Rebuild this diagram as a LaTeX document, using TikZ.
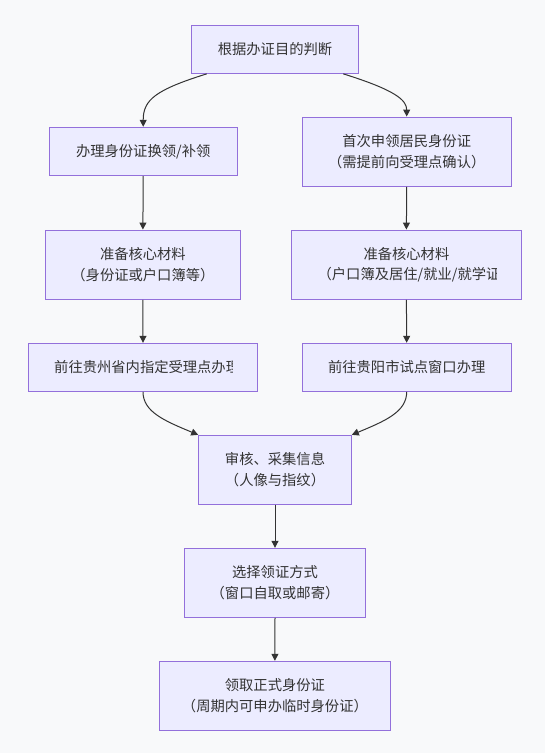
\documentclass[tikz,border=0pt]{standalone}
\usepackage{fontspec}
\newfontfamily\cjk{Noto Sans CJK SC}
\usetikzlibrary{arrows.meta}
\definecolor{bg}{HTML}{F8F9FA}
\definecolor{nodefill}{HTML}{ECECFF}
\definecolor{nodeborder}{HTML}{9370DB}
\definecolor{edgecol}{HTML}{333333}
\definecolor{txt}{HTML}{333333}
\begin{document}
\begin{tikzpicture}[x=1pt,y=-1pt,
  box/.style={draw=nodeborder, fill=nodefill, line width=1pt, inner sep=0pt, align=center, text=txt, font=\cjk\fontsize{14.3}{21.6}\selectfont},
  conn/.style={draw=edgecol, line width=1pt, -{Triangle[length=7pt,width=7pt]}},
  lbl/.style={inner sep=0pt, text=txt, font=\cjk\fontsize{14.3}{21.6}\selectfont}]
\fill[bg] (0,0) rectangle (545,753);
\useasboundingbox (0,0) rectangle (545,753);

\node[box, minimum width=166.6pt, minimum height=48.3pt] (n1) at (275,49.2) {根据办证目的判断};
\node[box, minimum width=188.4pt, minimum height=48.4pt] (n2) at (143.2,151.5) {办理身份证换领/补领};
\node[box, minimum width=208.6pt, minimum height=69.3pt] (n3) at (406.7,151.7) {首次申领居民身份证\\（需提前向受理点确认）};
\node[box, minimum width=194.7pt, minimum height=69.3pt] (n4) at (142.9,264.7) {准备核心材料\\（身份证或户口簿等）};
\node[box, minimum width=230.1pt, minimum height=69.3pt] (n5) at (406.4,264.7) {};
\node[lbl] (n5a) at (406.4,254.3) {准备核心材料};
\begin{scope}
  \clip (317.4,232) rectangle (496.7,298);
  \node[lbl, anchor=west] (n5b) at (317.4,275) {（户口簿及居住/就业/就学证明）};
\end{scope}
\node[box, minimum width=229.7pt, minimum height=48pt] (n6) at (143,367.3) {};
\begin{scope}
  \clip (54,345) rectangle (232.7,390);
  \node[lbl, anchor=west] (n6a) at (54,367.3) {前往贵州省内指定受理点办理};
\end{scope}
\node[box, minimum width=208.6pt, minimum height=48pt] (n7) at (406.7,367.3) {前往贵阳市试点窗口办理};
\node[box, minimum width=152.6pt, minimum height=68.7pt] (n8) at (275,469.7) {审核、采集信息\\（人像与指纹）};
\node[box, minimum width=180.6pt, minimum height=69pt] (n9) at (275,582.8) {选择领证方式\\（窗口自取或邮寄）};
\node[box, minimum width=230.3pt, minimum height=69pt] (n10) at (274.9,695.8) {领取正式身份证\\（周期内可申办临时身份证）};

\draw[conn] ([xshift=-68.3pt]n1.south) .. controls (155,90) and (143.2,100) .. (n2.north);
\draw[conn] ([xshift=68.3pt]n1.south) .. controls (395,90) and (406.7,100) .. (n3.north);
\draw[conn] (n2.south) -- (n4.north);
\draw[conn] (n3.south) -- (n5.north);
\draw[conn] (n4.south) -- (n6.north);
\draw[conn] (n5.south) -- (n7.north);
\draw[conn] (n6.south) .. controls (143,412) and (165,421) .. (n8.north west);
\draw[conn] (n7.south) .. controls (406.7,412) and (385,421) .. (n8.north east);
\draw[conn] (n8.south) -- (n9.north);
\draw[conn] (n9.south) -- (n10.north);
\end{tikzpicture}
\end{document}
